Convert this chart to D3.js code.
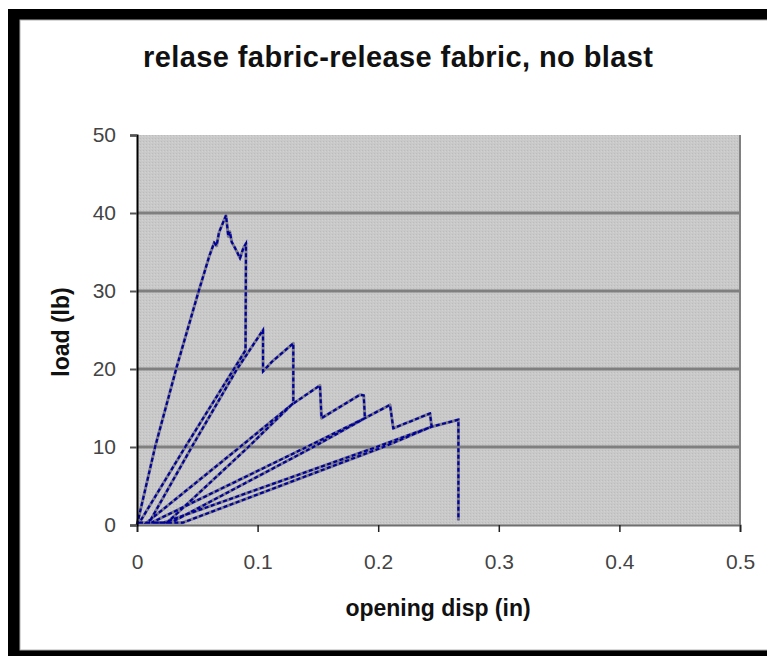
<!DOCTYPE html>
<html lang="en">
<head>
<meta charset="UTF-8">
<title>relase fabric-release fabric, no blast</title>
<script src="https://d3js.org/d3.v7.min.js"></script>
<style>
  body { margin: 0; background: #fff; }
  svg text { font-family: "Liberation Sans", Arial, sans-serif; }
</style>
</head>
<body>
<script>

var w = 767;
var h = 656;

// single trace, drawn in test order (load / drop / unload / reload)
var dispIn = [
  0.000, 0.015, 0.033, 0.051, 0.060, 0.064, 0.066, 0.068, 0.0738,
  0.0757, 0.0770, 0.0785, 0.0813, 0.0830, 0.0854, 0.0882, 0.0904, 0.0900,
  0.040, 0.002,
  0.010, 0.0454, 0.0826, 0.1045, 0.1045, 0.1117, 0.1296, 0.1296,
  0.0854, 0.008,
  0.025, 0.0923, 0.128, 0.1517, 0.1530, 0.1849, 0.188, 0.189,
  0.1407, 0.012,
  0.028, 0.1462, 0.189, 0.2098, 0.2125, 0.243, 0.2443,
  0.1987, 0.022,
  0.038, 0.2042, 0.2443, 0.2665, 0.2665
];
var loadLb = [
  0.0, 10.0, 20.3, 29.9, 34.5, 36.2, 35.8, 37.5, 39.7,
  37.0, 37.6, 36.3, 35.5, 35.0, 34.2, 35.5, 36.1, 22.4,
  10.0, 0.3,
  0.3, 10.0, 19.9, 25.0, 19.7, 20.9, 23.3, 15.6,
  10.0, 0.3,
  0.3, 10.0, 15.4, 17.9, 13.7, 16.7, 16.6, 13.7,
  10.0, 0.3,
  0.3, 10.0, 13.7, 15.4, 12.4, 14.3, 12.6,
  10.0, 0.3,
  0.3, 10.0, 12.6, 13.5, 0.6
];

var xTicks = [0, 0.1, 0.2, 0.3, 0.4, 0.5];
var xTickLabels = ["0", "0.1", "0.2", "0.3", "0.4", "0.5"];
var yTicks = [0, 10, 20, 30, 40, 50];
var gridVals = [10, 20, 30, 40];

var margin = {top: 135, right: 27, bottom: 131, left: 137};
var width = w - margin.left - margin.right;
var height = h - margin.top - margin.bottom;

var svg = d3.select("body").append("svg")
  .attr("width", w)
  .attr("height", h);

// black frame, cut off on the right like the picture
svg.append("rect").attr("x", 8).attr("y", 9).attr("width", 800).attr("height", 700).attr("fill", "#000");
svg.append("rect").attr("x", 20).attr("y", 20).attr("width", 800).attr("height", 630)
  .attr("fill", "#fff").attr("stroke", "#b0b0b0").attr("stroke-width", 1);

var defs = svg.append("defs");
var pat = defs.append("pattern").attr("id", "dither")
  .attr("width", 3).attr("height", 3).attr("patternUnits", "userSpaceOnUse");
pat.append("rect").attr("width", 3).attr("height", 3).attr("fill", "#c9c9c9");
pat.append("rect").attr("width", 1).attr("height", 1).attr("fill", "#bcbcbc");
pat.append("rect").attr("x", 2).attr("y", 1).attr("width", 1).attr("height", 1).attr("fill", "#d2d2d2");

svg.append("text")
  .attr("x", 398).attr("y", 67)
  .attr("text-anchor", "middle")
  .attr("font-size", "29px").attr("font-weight", "bold")
  .attr("textLength", 510).attr("lengthAdjust", "spacing")
  .attr("fill", "#111")
  .text("relase fabric-release fabric, no blast");

var g = svg.append("g")
  .attr("transform", "translate(" + margin.left + "," + margin.top + ")");

var xScale = d3.scaleLinear().domain([0, 0.5]).range([0, width]);
var yScale = d3.scaleLinear().domain([0, 50]).range([height, 0]);

g.append("rect").attr("width", width).attr("height", height).attr("fill", "url(#dither)");

g.selectAll("line.grid")
  .data(gridVals)
  .enter().append("line")
  .attr("class", "grid")
  .attr("x1", 0).attr("x2", width)
  .attr("y1", function(d) { return yScale(d); })
  .attr("y2", function(d) { return yScale(d); })
  .attr("stroke", "#7f7f7f").attr("stroke-width", 3);

g.append("line")
  .attr("x1", width).attr("x2", width).attr("y1", 0).attr("y2", height)
  .attr("stroke", "#808080").attr("stroke-width", 2);

var pts = d3.range(dispIn.length).map(function(i) { return [dispIn[i], loadLb[i]]; });
var line = d3.line()
  .x(function(d) { return xScale(d[0]); })
  .y(function(d) { return yScale(d[1]); });

g.append("path").datum(pts)
  .attr("d", line)
  .attr("fill", "none")
  .attr("stroke", "#7c7c8c").attr("stroke-width", 3)
  .attr("stroke-linejoin", "round");
g.append("path").datum(pts)
  .attr("d", line)
  .attr("fill", "none")
  .attr("stroke", "#00009a").attr("stroke-width", 2.2)
  .attr("stroke-dasharray", "4,2.5");

var xAxis = d3.axisBottom(xScale)
  .tickValues(xTicks)
  .tickFormat(function(d, i) { return xTickLabels[i]; })
  .tickSize(7).tickPadding(22);
var xg = g.append("g").attr("transform", "translate(0," + height + ")").call(xAxis);
xg.select(".domain").attr("stroke", "#6f6f6f").attr("stroke-width", 2);
xg.selectAll(".tick line").attr("stroke", "#222").attr("stroke-width", 1.5);
xg.selectAll("text").attr("font-size", "21px").attr("fill", "#444")
  .attr("font-family", "'Liberation Sans', Arial, sans-serif");

var yAxis = d3.axisLeft(yScale)
  .tickValues(yTicks)
  .tickSize(7).tickPadding(14);
var yg = g.append("g").call(yAxis);
yg.select(".domain").attr("stroke", "#000").attr("stroke-width", 2);
yg.selectAll(".tick line").attr("stroke", "#555").attr("stroke-width", 2);
yg.selectAll("text").attr("font-size", "21px").attr("fill", "#444")
  .attr("font-family", "'Liberation Sans', Arial, sans-serif");

svg.append("text")
  .attr("x", 438).attr("y", 616)
  .attr("text-anchor", "middle")
  .attr("font-size", "23px").attr("font-weight", "bold")
  .attr("fill", "#111")
  .text("opening disp (in)");

svg.append("text")
  .attr("transform", "translate(69,332) rotate(-90)")
  .attr("text-anchor", "middle")
  .attr("font-size", "23px").attr("font-weight", "bold")
  .attr("fill", "#111")
  .text("load (lb)");

</script>
</body>
</html>
